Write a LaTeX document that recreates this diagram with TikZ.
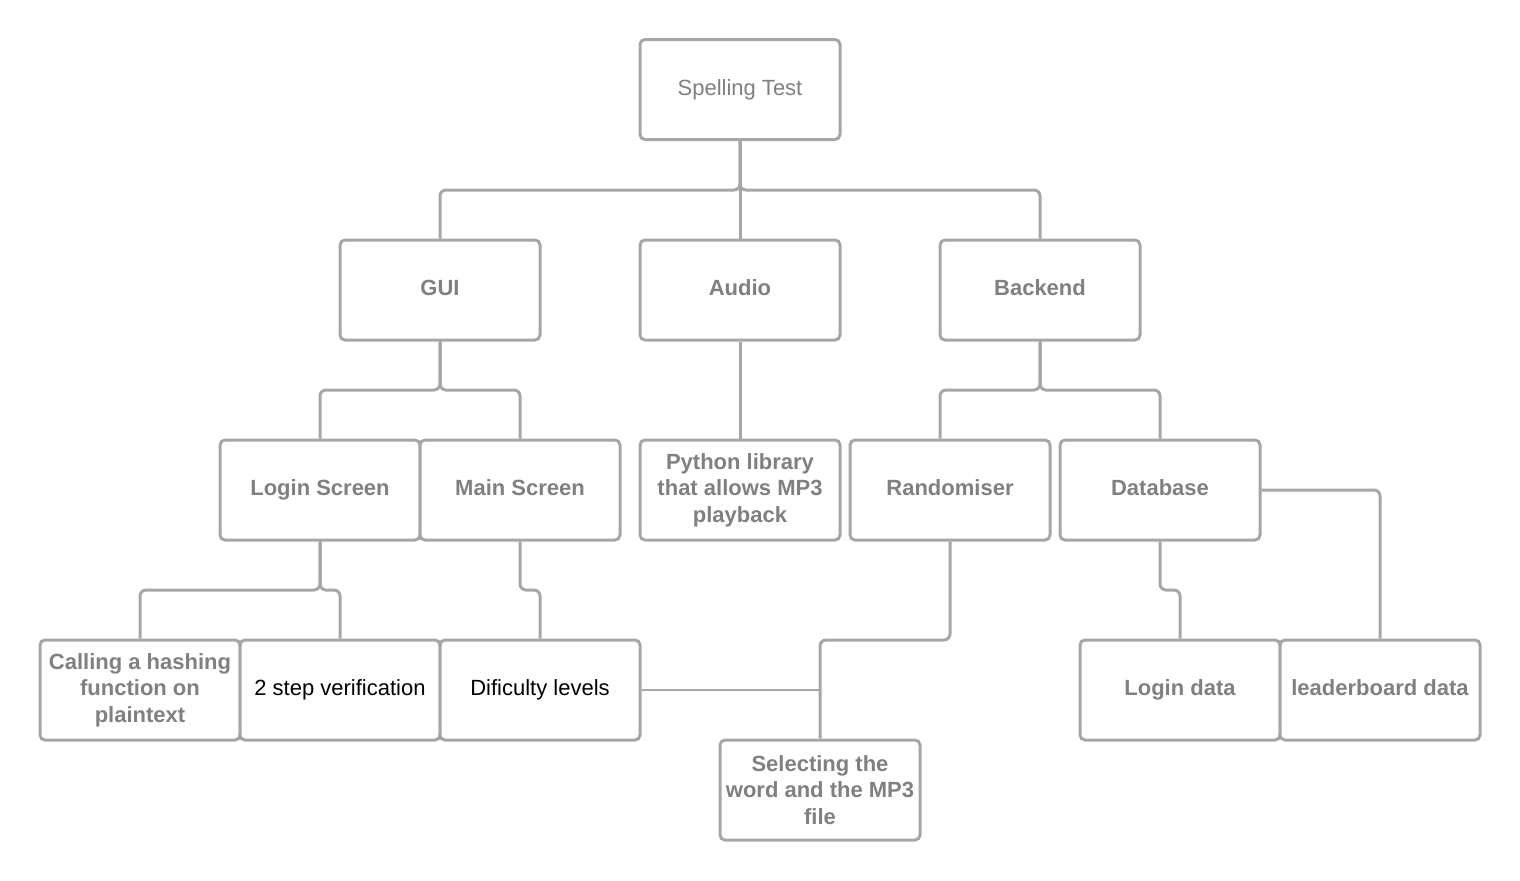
\documentclass[tikz,border=0pt]{standalone}
\usepackage{fontspec}
\setmainfont{Liberation Sans}
\definecolor{boxgray}{HTML}{A6A6A6}
\definecolor{textgray}{HTML}{808080}

\begin{document}
\begin{tikzpicture}[x=0.5pt, y=-0.5pt]
    \tikzstyle{tree box} = [rectangle, rounded corners=2.5pt, draw=boxgray, line width=1.5pt, fill=white, minimum width=100pt, minimum height=50pt, align=center, font=\fontsize{11}{13.25}\selectfont\bfseries, text=textgray, inner sep=2pt]
    \tikzstyle{one line} = [text height=8pt, text depth=2.5pt]
    \tikzstyle{plain box} = [tree box, one line, font=\fontsize{11}{13.25}\selectfont, text=black]
    \tikzstyle{tree edge} = [draw=boxgray, line width=1.5pt, rounded corners=3pt]
    \tikzstyle{thin edge} = [draw=boxgray, line width=0.75pt]
\fill[white] (0,0) rectangle (1520,880);
\useasboundingbox (0,0) rectangle (1520,880);
\node[tree box, one line, font=\fontsize{11}{13.25}\selectfont] (spell) at (740, 89.5) {Spelling Test};
\node[tree box, one line] (gui) at (440, 290) {GUI};
\node[tree box, one line] (audio) at (740, 290) {Audio};
\node[tree box, one line] (backend) at (1040, 290) {Backend};
\node[tree box, one line] (login) at (320, 490) {Login Screen};
\node[tree box, one line] (main) at (520, 490) {Main Screen};
\node[tree box] (python) at (740, 490) {Python library\\that allows MP3\\playback};
\node[tree box, one line] (random) at (950, 490) {Randomiser};
\node[tree box, one line] (db) at (1160, 490) {Database};
\node[tree box] (hash) at (140, 690) {Calling a hashing\\function on\\plaintext};
\node[plain box] (twostep) at (340, 690) {2 step verification};
\node[plain box] (levels) at (540, 690) {Dificulty levels};
\node[tree box] (select) at (820, 790) {Selecting the\\word and the MP3\\file};
\node[tree box, one line] (logindata) at (1180, 690) {Login data};
\node[tree box, one line] (leader) at (1380, 690) {leaderboard data};
\draw[tree edge] (spell.south) -- (spell.south |- 0,190) -| (gui.north);
\draw[tree edge] (spell.south) -- (audio.north);
\draw[tree edge] (spell.south) -- (spell.south |- 0,190) -| (backend.north);
\draw[tree edge] (gui.south) -- (gui.south |- 0,390) -| (login.north);
\draw[tree edge] (gui.south) -- (gui.south |- 0,390) -| (main.north);
\draw[tree edge] (audio.south) -- (python.north);
\draw[tree edge] (backend.south) -- (backend.south |- 0,390) -| ([xshift=-5pt]random.north);
\draw[tree edge] (backend.south) -- (backend.south |- 0,390) -| (db.north);
\draw[tree edge] (login.south) -- (login.south |- 0,590) -| (hash.north);
\draw[tree edge] (login.south) -- (login.south |- 0,590) -| (twostep.north);
\draw[tree edge] (main.south) -- (main.south |- 0,590) -| (levels.north);
\draw[tree edge] (random.south) -- (random.south |- 0,640) -| (select.north);
\draw[thin edge] (levels.east) -- (levels.east -| select.north);
\draw[tree edge] (db.south) -- (db.south |- 0,590) -| (logindata.north);
\draw[tree edge] (db.east) -| (leader.north);
\end{tikzpicture}
\end{document}
